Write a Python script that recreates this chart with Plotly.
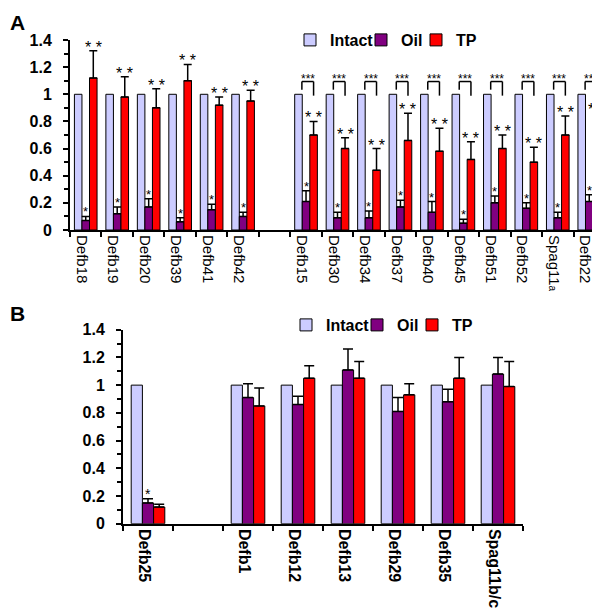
import plotly.graph_objects as go

# ---------------- Panel A data ----------------
a_genes_left = ["Defb18", "Defb19", "Defb20", "Defb39", "Defb41", "Defb42"]
a_genes_right = ["Defb15", "Defb30", "Defb34", "Defb37", "Defb40", "Defb45",
                 "Defb51", "Defb52", "Spag11<span style='font-size:10px'>a</span>", "Defb22"]
a_intact = [1, 1, 1, 1, 1, 1, 1, 1, 1, 1, 1, 1, 1, 1, 1, 1]
a_oil = [0.07, 0.12, 0.17, 0.06, 0.15, 0.10, 0.21, 0.09, 0.09, 0.17, 0.13, 0.05, 0.20, 0.16, 0.09, 0.21]
a_oil_err = [0.03, 0.05, 0.06, 0.03, 0.04, 0.03, 0.08, 0.04, 0.05, 0.05, 0.08, 0.03, 0.05, 0.04, 0.04, 0.05]
a_tp = [1.12, 0.98, 0.90, 1.10, 0.92, 0.95, 0.70, 0.60, 0.44, 0.66, 0.58, 0.52, 0.60, 0.50, 0.70, 0.71]
a_tp_err = [0.20, 0.15, 0.14, 0.12, 0.06, 0.08, 0.10, 0.08, 0.16, 0.20, 0.17, 0.13, 0.10, 0.11, 0.14, 0.15]
a_oil_sig = ["*"] * 16
a_tp_sig = ["* *"] * 16
a_bracket_sig = ["", "", "", "", "", "", "***", "***", "***", "***", "***", "***", "***", "***", "***", "***"]

# ---------------- Panel B data ----------------
b_genes_left = ["Defb25"]
b_genes_right = ["Defb1", "Defb12", "Defb13", "Defb29", "Defb35", "Spag11b/c"]
b_intact = [1, 1, 1, 1, 1, 1, 1]
b_oil = [0.15, 0.91, 0.86, 1.11, 0.81, 0.88, 1.08]
b_oil_err = [0.03, 0.10, 0.06, 0.15, 0.10, 0.09, 0.12]
b_tp = [0.12, 0.85, 1.05, 1.05, 0.93, 1.05, 0.99]
b_tp_err = [0.02, 0.13, 0.09, 0.12, 0.08, 0.15, 0.18]
b_oil_sig = ["*", "", "", "", "", "", ""]

series_names = ["Intact", "Oil", "TP"]
colors = ["#CCCCFF", "#800080", "#FF0000"]
legend_widths = [26, 10, None]

FONT = "Arial, Liberation Sans, sans-serif"


def with_gap(left, vals):
    """insert an empty category between the two gene groups"""
    n = len(left)
    return vals[:n] + [None] + vals[n:]


a_cats = a_genes_left + [" "] + a_genes_right
b_cats = b_genes_left + [" "] + b_genes_right
a_idx = [i for i, c in enumerate(a_cats) if c != " "]
b_idx = [i for i, c in enumerate(b_cats) if c != " "]

fig = go.Figure()

# bar geometry (category units)
wa = 0.24
wb = 0.224


def add_panel(cats, genes_l, intact, oil, oil_err, tp, tp_err, w, xa, ya, legend, capw):
    data = [intact, oil, tp]
    errs = [None, oil_err, tp_err]
    for k in range(3):
        y = with_gap(genes_l, list(data[k]))
        bar = dict(
            x=cats, y=y, name=series_names[k], width=w, offset=-1.5 * w + k * w,
            marker=dict(color=colors[k], line=dict(color="black", width=1)),
            xaxis=xa, yaxis=ya, legend=legend, showlegend=True,
        )
        if legend_widths[k] is not None:
            bar["legendwidth"] = legend_widths[k]
        if errs[k] is not None:
            e = with_gap(genes_l, list(errs[k]))
            bar["error_y"] = dict(type="data", array=e, arrayminus=[0] * len(e), symmetric=False,
                                  color="black", thickness=1.5, width=capw)
        fig.add_trace(go.Bar(**bar))


add_panel(a_cats, a_genes_left, a_intact, a_oil, a_oil_err, a_tp, a_tp_err,
          wa, "x", "y", "legend", 4)
add_panel(b_cats, b_genes_left, b_intact, b_oil, b_oil_err, b_tp, b_tp_err,
          wb, "x2", "y2", "legend2", 5)

annotations = []
shapes = []

# Panel A significance marks
for j, i in enumerate(a_idx):
    if a_oil_sig[j]:
        annotations.append(dict(x=i, y=a_oil[j] + a_oil_err[j], xref="x", yref="y", text=a_oil_sig[j],
                                showarrow=False, yanchor="bottom", yshift=-5,
                                font=dict(family=FONT, size=13, color="black")))
    if a_tp_sig[j]:
        annotations.append(dict(x=i + wa, y=a_tp[j] + a_tp_err[j], xref="x", yref="y", text=a_tp_sig[j],
                                showarrow=False, yanchor="bottom", yshift=-7,
                                font=dict(family=FONT, size=16, color="black")))
    if a_bracket_sig[j]:
        xl = i - wa * 0.55
        xr = i + wa
        ytop, yl, yr = 1.094, 1.034, 0.99
        for (x0, y0, x1, y1) in [(xl, yl, xl, ytop), (xl, ytop, xr, ytop), (xr, ytop, xr, yr)]:
            shapes.append(dict(type="line", xref="x", yref="y", x0=x0, y0=y0, x1=x1, y1=y1,
                               line=dict(color="black", width=1.5)))
        annotations.append(dict(x=(xl + xr) / 2, y=ytop, xref="x", yref="y", text=a_bracket_sig[j],
                                showarrow=False, yanchor="bottom", yshift=-6,
                                font=dict(family=FONT, size=12, color="black")))

# Panel B significance marks
for j, i in enumerate(b_idx):
    if b_oil_sig[j]:
        annotations.append(dict(x=i, y=b_oil[j] + b_oil_err[j], xref="x2", yref="y2", text=b_oil_sig[j],
                                showarrow=False, yanchor="bottom", yshift=-5,
                                font=dict(family=FONT, size=14, color="black")))

# panel letters
annotations.append(dict(x=0, y=1 - 1 / 610, xref="paper", yref="paper", text="<b>A</b>",
                        showarrow=False, xanchor="left", yanchor="top",
                        font=dict(family=FONT, size=21, color="black")))
annotations.append(dict(x=0, y=1 - 292 / 610, xref="paper", yref="paper", text="<b>B</b>",
                        showarrow=False, xanchor="left", yanchor="top",
                        font=dict(family=FONT, size=21, color="black")))

yaxis_common = dict(range=[0, 1.4], tickvals=[0, 0.2, 0.4, 0.6, 0.8, 1, 1.2, 1.4],
                    ticktext=["0", "0.2", "0.4", "0.6", "0.8", "1", "1.2", "1.4"],
                    showline=True, linecolor="black", linewidth=2, ticks="outside", ticklen=5,
                    tickwidth=2, tickcolor="black", showgrid=False, zeroline=False,
                    minor=dict(dtick=0.1, ticks="outside", ticklen=4, tickwidth=1.5, tickcolor="black"),
                    tickfont=dict(family=FONT, size=16, color="black", weight="bold"),
                    ticklabelstandoff=8,
                    automargin=False, fixedrange=True)
xaxis_common = dict(type="category", showline=True, linecolor="black", linewidth=2, ticks="outside",
                    ticklen=5, tickwidth=2, tickcolor="black", tickson="boundaries", showgrid=False,
                    tickangle=90, automargin=False, fixedrange=True)

fig.update_layout(
    width=600, height=610,
    margin=dict(l=0, r=0, t=0, b=0),
    paper_bgcolor="white", plot_bgcolor="white",
    barmode="group",
    xaxis=dict(**xaxis_common, domain=[62 / 600, 597 / 600], anchor="y",
               categoryorder="array", categoryarray=a_cats, range=[-0.5, len(a_cats) - 0.5],
               ticklabelshift=-4,
               tickfont=dict(family=FONT, size=15, color="black")),
    yaxis=dict(**yaxis_common, domain=[388 / 610, 578 / 610], anchor="x"),
    xaxis2=dict(**xaxis_common, domain=[115 / 600, 515 / 600], anchor="y2",
                categoryorder="array", categoryarray=b_cats, range=[-0.5, len(b_cats) - 0.5],
                ticklabelshift=-4,
                tickfont=dict(family=FONT, size=16, color="black", weight="bold")),
    yaxis2=dict(**yaxis_common, domain=[(610 - 515.7) / 610, (610 - 321.7) / 610], anchor="x2"),
    legend=dict(orientation="h", x=282 / 600, y=1 - 32 / 610, xanchor="left", yanchor="middle",
                font=dict(family=FONT, size=16, color="black", weight="bold"),
                bgcolor="rgba(0,0,0,0)", itemwidth=30, traceorder="normal"),
    legend2=dict(orientation="h", x=278 / 600, y=1 - 317 / 610, xanchor="left", yanchor="middle",
                 font=dict(family=FONT, size=16, color="black", weight="bold"),
                 bgcolor="rgba(0,0,0,0)", itemwidth=30, traceorder="normal"),
    annotations=annotations,
    shapes=shapes,
    showlegend=True,
)

fig.write_html("out.html")
